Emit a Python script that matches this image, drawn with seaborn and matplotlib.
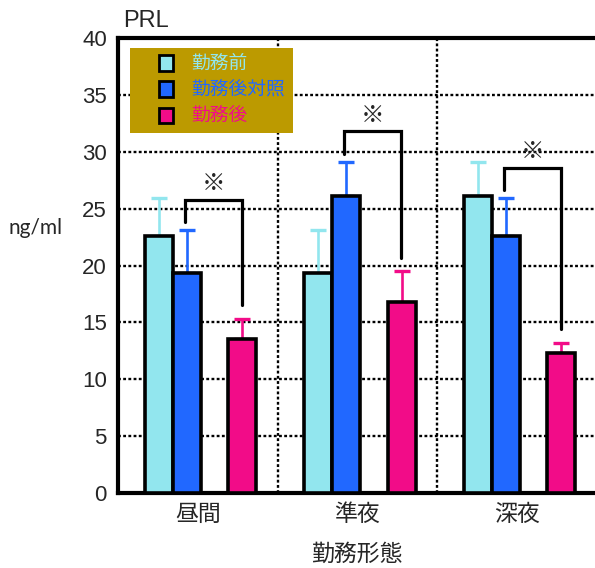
import numpy as np
import pandas as pd
import seaborn as sns
import matplotlib.pyplot as plt
from matplotlib.patches import Patch, Rectangle
from matplotlib.colors import to_hex

# data
shifts = ['昼間', '準夜', '深夜']
series = ['勤務前', '勤務後対照', '勤務後']
pre = [22.6, 19.3, 26.1]
pre_sd = [3.3, 3.8, 3.0]
ctrl = [19.3, 26.1, 22.6]
ctrl_sd = [3.8, 3.0, 3.3]
post = [13.5, 16.8, 12.3]
post_sd = [1.8, 2.7, 0.9]
colors = ['#92E6EE', '#2168FF', '#F20C88']

sns.set_style('white')
plt.rcParams['font.family'] = ['Liberation Sans', 'Noto Sans CJK JP']

rows = []
for s, vals in zip(series, [pre, ctrl, post]):
    for g, v in zip(shifts, vals):
        rows.append({'勤務形態': g, '系列': s, 'PRL': v})
df = pd.DataFrame(rows)

# empty slot between the 2nd and 3rd bar
hue_order = ['勤務前', '勤務後対照', '空', '勤務後']
palette = {'勤務前': colors[0], '勤務後対照': colors[1], '空': '#ffffff', '勤務後': colors[2]}

fig = plt.figure(figsize=(5.95, 5.68), dpi=100)
ax = fig.add_axes([118 / 595, 75 / 568, 478.5 / 595, 455 / 568])

sns.barplot(data=df, x='勤務形態', y='PRL', hue='系列', hue_order=hue_order,
            palette=palette, order=shifts, width=0.7, errorbar=None,
            edgecolor='black', linewidth=2.6, saturation=1, legend=False,
            ax=ax, zorder=3)

# error bars (upper only), placed on the bars seaborn drew
sd_map = dict(zip(series, [pre_sd, ctrl_sd, post_sd]))
col_map = {to_hex(c): s for s, c in zip(series, colors)}
centers = {s: [] for s in series}
for p in ax.patches:
    p.set_x(p.get_x() + 0.0175)
    key = to_hex(p.get_facecolor())
    if key in col_map and p.get_height() > 0:
        centers[col_map[key]].append((p.get_x() + p.get_width() / 2, p.get_height()))
for s, c in zip(series, colors):
    pts = sorted(centers[s])
    xs = [q[0] for q in pts]
    hs = [q[1] for q in pts]
    ax.errorbar(xs, hs, yerr=[np.zeros(len(hs)), sd_map[s]], fmt='none',
                ecolor=c, elinewidth=1.9, capsize=6, capthick=2.4, zorder=2)
    centers[s] = xs

# significance brackets between 勤務後対照 and 勤務後
for i in range(3):
    xl = centers['勤務後対照'][i] - 0.01
    xr = centers['勤務後'][i] - 0.005
    yl = ctrl[i] + ctrl_sd[i] + 0.7
    yr = post[i] + post_sd[i] + 1.2
    yt = yl + 2.0
    ax.plot([xl, xl, xr, xr], [yl, yt, yt, yr], color='black', lw=2.3,
            solid_joinstyle='miter', zorder=4)
    ax.text((xl + xr) / 2, yt + 1.4, '※', ha='center', va='center',
            fontsize=17, family='Noto Sans CJK JP', zorder=4)

ax.set_xlim(-0.5, 2.5)
ax.set_ylim(0, 40)
ax.set_yticks(range(0, 41, 5))
ax.set_xticks([0.5, 1.5], minor=True)
ax.grid(True, axis='y', which='major', color='black', linestyle=(0, (1.2, 1.0)), lw=1.7)
ax.grid(True, axis='x', which='minor', color='black', linestyle=(0, (1.2, 1.0)), lw=1.7)
ax.set_axisbelow(True)
ax.tick_params(axis='y', direction='in', length=7, width=2.2, labelsize=16, pad=8)
ax.tick_params(axis='x', which='major', length=0, labelsize=16.5, pad=7)
ax.tick_params(axis='x', which='minor', direction='in', length=7, width=2.2)
ax.set_xlabel('勤務形態', fontsize=16.5, labelpad=12)
ax.set_ylabel('')
for side in ['left', 'bottom', 'top']:
    ax.spines[side].set_linewidth(3)
    ax.spines[side].set_color('black')
ax.spines['right'].set_visible(False)

ax.set_title('PRL', loc='left', fontsize=17, pad=8, x=0.01)
fig.text(8 / 595, (568 - 228) / 568, 'ng/ml', fontsize=15, family='Lato',
         ha='left', va='center')

# legend on a gold box
ax.add_patch(Rectangle((0.025, 0.791), 0.341, 0.187, transform=ax.transAxes,
                       facecolor='#BC9A00', edgecolor='none', zorder=5))
handles = [Patch(facecolor=c, edgecolor='black', linewidth=2) for c in colors]
ax.legend(handles, series, loc='upper left', bbox_to_anchor=(0.067, 0.987),
          frameon=False, labelcolor=colors, handlelength=0.75,
          handleheight=0.9, handletextpad=0.95, labelspacing=0.28, borderpad=0,
          prop={'family': 'Noto Sans CJK JP', 'size': 13.5}).set_zorder(6)

fig.savefig('out.png', dpi=100)
